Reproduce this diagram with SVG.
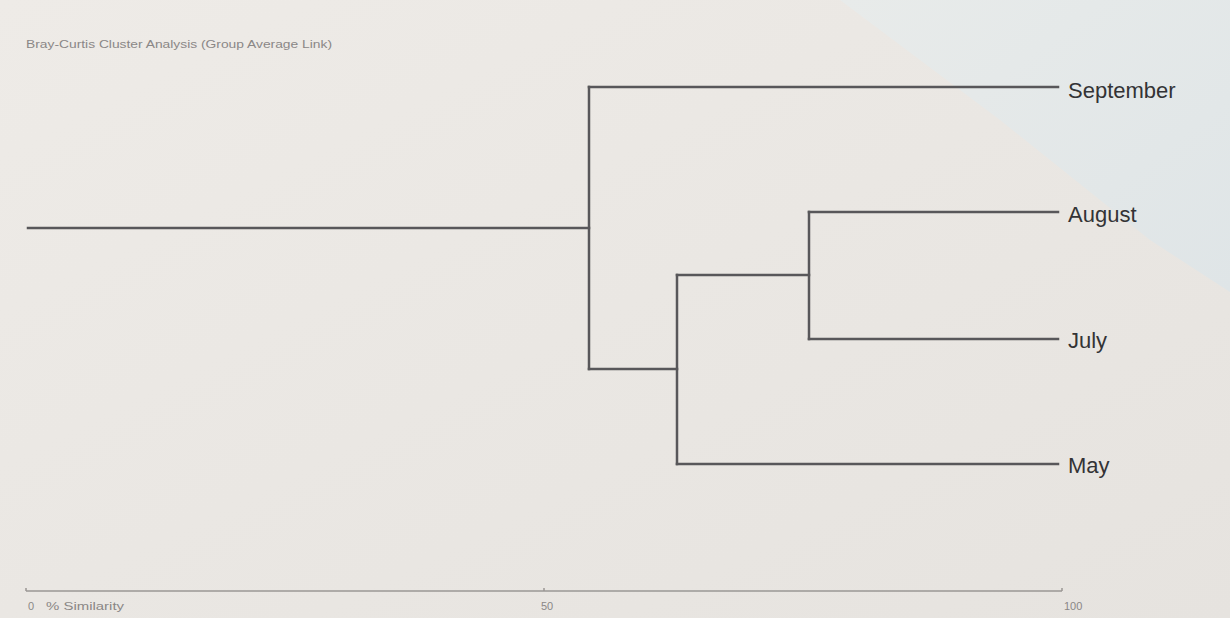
<svg xmlns="http://www.w3.org/2000/svg" width="1230" height="618" viewBox="0 0 1230 618">
<style>
.ln{stroke:#58575a;stroke-width:2.5;fill:none;stroke-linecap:square}
.lbl{font-family:"Liberation Sans",Arial,sans-serif;font-size:22px;fill:#333335}
.sm{font-family:"Liberation Sans",Arial,sans-serif;font-size:11px;fill:#8a8786}
.ax{stroke:#9a9794;stroke-width:1.5;fill:none}
</style>
<defs>
<linearGradient id="bg" x1="0" y1="0" x2="1" y2="1">
<stop offset="0" stop-color="#eeebe7"/>
<stop offset="1" stop-color="#e6e3df"/>
</linearGradient>
<linearGradient id="fold" x1="0" y1="0" x2="1" y2="1">
<stop offset="0" stop-color="#e8ebea"/>
<stop offset="1" stop-color="#dfe5e7"/>
</linearGradient>
</defs>
<rect width="1230" height="618" fill="url(#bg)"/>
<polygon points="840,0 1230,0 1230,292 1150,240 1000,120" fill="url(#fold)"/>
<text class="sm" x="26" y="48" textLength="306" lengthAdjust="spacingAndGlyphs">Bray-Curtis Cluster Analysis (Group Average Link)</text>
<g id="connectors">
<path class="ln" d="M28,228 H589"/>
<path class="ln" d="M589,87 V369"/>
<path class="ln" d="M589,87 H1058"/>
<path class="ln" d="M589,369 H677"/>
<path class="ln" d="M677,275 V464"/>
<path class="ln" d="M677,275 H809"/>
<path class="ln" d="M809,212 V339"/>
<path class="ln" d="M809,212 H1058"/>
<path class="ln" d="M809,339 H1058"/>
<path class="ln" d="M677,464 H1058"/>
</g>
<g id="september"><text class="lbl" x="1068" y="98">September</text></g>
<g id="august"><text class="lbl" x="1068" y="222">August</text></g>
<g id="july"><text class="lbl" x="1068" y="348">July</text></g>
<g id="may"><text class="lbl" x="1068" y="473">May</text></g>
<g id="axis">
<path class="ax" d="M26,591 H1062"/>
<path class="ax" d="M26,588 V591 M544,588 V591 M1062,588 V591"/>
<text class="sm" x="28" y="610">0</text>
<text class="sm" x="46" y="610" textLength="78" lengthAdjust="spacingAndGlyphs">% Similarity</text>
<text class="sm" x="541" y="610">50</text>
<text class="sm" x="1064" y="610">100</text>
</g>
</svg>
